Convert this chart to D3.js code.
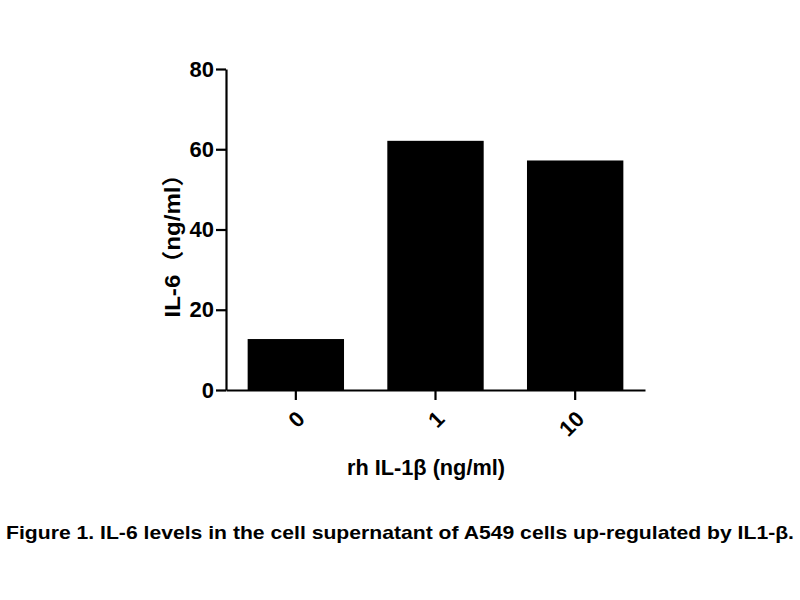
<!DOCTYPE html>
<html>
<head>
<meta charset="utf-8">
<script src="https://d3js.org/d3.v7.min.js"></script>
<style>
  html, body { margin: 0; padding: 0; background: #fff; }
  svg { display: block; }
  text { font-family: "Liberation Sans", Arial, "Noto Sans CJK SC", sans-serif; font-weight: bold; fill: #000; }
</style>
</head>
<body>
<script>
var doses = ['0', '1', '10'];
var il6Values = [12.7, 62.1, 57.2];
var yTicks = [0, 20, 40, 60, 80];

var yLabel = 'IL-6\uFF08ng/ml\uFF09';
var xLabel = 'rh IL-1\u03B2 (ng/ml)';
var caption = 'Figure 1. IL-6 levels in the cell supernatant of A549 cells up-regulated by IL1-\u03B2.';

var svg = d3.select('body').append('svg')
  .attr('width', 800)
  .attr('height', 600);

var x = d3.scaleBand().domain(doses).range([226, 645]).paddingInner(0.31).paddingOuter(0.155);
var y = d3.scaleLinear().domain([0, 80]).range([390, 69]);

svg.selectAll('rect.bar')
  .data(doses)
  .enter()
  .append('rect')
  .attr('class', 'bar')
  .attr('x', function (d) { return x(d); })
  .attr('width', x.bandwidth())
  .attr('y', function (d, i) { return y(il6Values[i]); })
  .attr('height', function (d, i) { return y(0) - y(il6Values[i]); })
  .attr('fill', '#000');

// y axis
var yAxis = svg.append('g')
  .attr('transform', 'translate(226,0)')
  .call(d3.axisLeft(y).tickValues(yTicks).tickSize(10).tickSizeOuter(0).tickPadding(2));
yAxis.select('.domain').attr('stroke-width', 2.2);
yAxis.selectAll('.tick line').attr('stroke-width', 2.2);
yAxis.selectAll('.tick text')
  .style('font-size', '22px')
  .style('font-family', '"Liberation Sans", Arial, sans-serif')
  .style('font-weight', 'bold');

// x axis
var xAxis = svg.append('g')
  .attr('transform', 'translate(0,390)')
  .call(d3.axisBottom(x).tickSize(10).tickSizeOuter(0).tickPadding(0));
xAxis.select('.domain').attr('stroke-width', 2.2);
xAxis.selectAll('.tick line').attr('stroke-width', 2.2);
xAxis.selectAll('.tick text')
  .style('font-size', '22px')
  .style('font-family', '"Liberation Sans", Arial, sans-serif')
  .style('font-weight', 'bold')
  .attr('text-anchor', 'end')
  .attr('dy', '0.35em')
  .attr('transform', 'translate(5,25) rotate(-45)')
  .attr('y', 0)
  .attr('x', 0);

// axis titles
svg.append('text')
  .attr('transform', 'translate(180,240) rotate(-90)')
  .attr('text-anchor', 'middle')
  .attr('textLength', 155)
  .attr('lengthAdjust', 'spacingAndGlyphs')
  .style('font-size', '22px')
  .text(yLabel);

svg.append('text')
  .attr('x', 426)
  .attr('y', 475)
  .attr('text-anchor', 'middle')
  .attr('textLength', 158)
  .attr('lengthAdjust', 'spacingAndGlyphs')
  .style('font-size', '22px')
  .text(xLabel);

svg.append('text')
  .attr('x', 400)
  .attr('y', 539)
  .attr('text-anchor', 'middle')
  .attr('textLength', 788)
  .attr('lengthAdjust', 'spacingAndGlyphs')
  .style('font-size', '19px')
  .text(caption);
</script>
</body>
</html>
